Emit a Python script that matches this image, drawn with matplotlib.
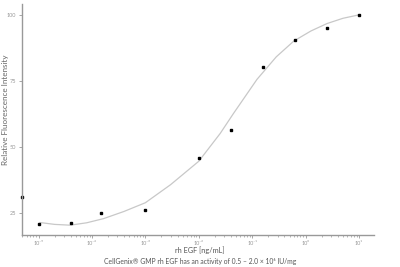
import numpy as np
import matplotlib.pyplot as plt
from matplotlib.ticker import LogLocator, FixedLocator, NullFormatter

plt.rcParams['font.family'] = ['Lato', 'DejaVu Sans']

# measured points, rh EGF concentration [ng/mL] and relative fluorescence intensity
dose = [10**-5.31, 1e-5, 4e-5, 1.5e-4, 1e-3, 1e-2, 0.04, 0.16, 0.64, 2.56, 10.0]
intensity = [30.8, 20.8, 21.0, 25.0, 25.9, 45.9, 56.2, 80.3, 90.5, 94.9, 99.9]

# fitted curve
fit_log_dose = [-4.97, -4.7, -4.41, -4.1, -3.78, -3.4, -3.0, -2.53, -2.0, -1.6,
                -1.35, -0.91, -0.55, -0.22, 0.1, 0.4, 0.7, 1.0]
fit_intensity = [21.3, 20.6, 20.3, 21.2, 22.8, 25.5, 28.8, 35.6, 44.5, 55.0,
                 62.6, 75.5, 84.0, 90.0, 93.8, 96.6, 98.6, 99.9]

x_ticks = [1e-5, 1e-4, 1e-3, 1e-2, 1e-1, 1e0, 1e1]
x_tick_labels = ['10⁻⁵', '10⁻⁴', '10⁻³', '10⁻²', '10⁻¹', '10⁰', '10¹']
y_ticks = [25, 50, 75, 100]

fig = plt.figure(figsize=(4, 2.67), dpi=100)
ax = fig.add_axes([0.055, 0.12, 0.88, 0.865])

ax.plot(10**np.array(fit_log_dose), fit_intensity, color='#c8c8c8', lw=0.9, zorder=1)
ax.plot(dose, intensity, 's', color='black', ms=2.0, zorder=2, clip_on=False)

ax.set_xscale('log')
ax.set_xlim(10**-5.31, 10**1.28)
ax.set_ylim(16.6, 104)

ax.xaxis.set_major_locator(FixedLocator(x_ticks))
ax.xaxis.set_minor_locator(LogLocator(base=10, subs=np.arange(2, 10)))
ax.xaxis.set_minor_formatter(NullFormatter())
ax.set_xticklabels(x_tick_labels)
ax.set_yticks(y_ticks)

for side in ['top', 'right']:
    ax.spines[side].set_visible(False)
for side in ['left', 'bottom']:
    ax.spines[side].set_color('#999999')
    ax.spines[side].set_linewidth(1.0)

ax.tick_params(which='major', length=2.5, width=0.6, color='#999999',
               labelsize=4.0, labelcolor='#999999', pad=1.5)
ax.tick_params(which='minor', length=1.5, width=0.5, color='#999999')

fig.text(0.5, 1 - 250.5 / 267, 'rh EGF [ng/mL]', ha='center', va='center',
         fontsize=5.3, color='#555555')
fig.text(0.014, 1 - 110 / 267, 'Relative Fluorescence Intensity', ha='center', va='center',
         rotation=90, fontsize=5.8, color='#666666')
fig.text(0.5, 1 - 261.5 / 267, 'CellGenix® GMP rh EGF has an activity of 0.5 – 2.0 × 10⁶ IU/mg',
         ha='center', va='center', fontsize=4.9, color='#555555')

plt.savefig('out.png', dpi=100)
plt.close()
